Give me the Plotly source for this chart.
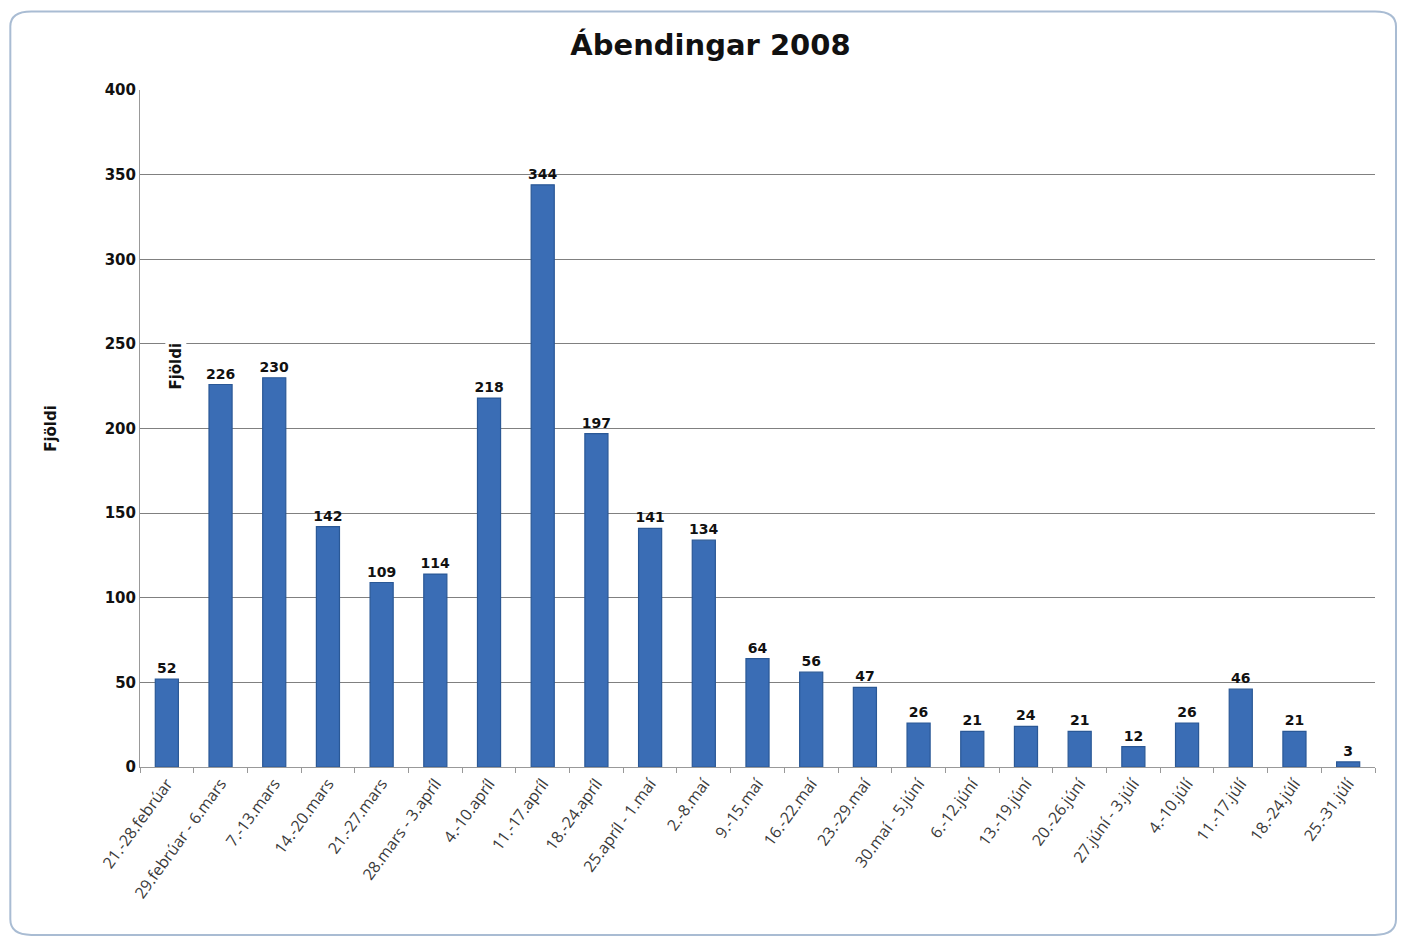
import plotly.graph_objects as go

categories = ["21.-28.febrúar", "29.febrúar - 6.mars", "7.-13.mars", "14.-20.mars",
              "21.-27.mars", "28.mars - 3.apríl", "4.-10.apríl", "11.-17.apríl",
              "18.-24.apríl", "25.apríl - 1.maí", "2.-8.maí", "9.-15.maí",
              "16.-22.maí", "23.-29.maí", "30.maí - 5.júní", "6.-12.júní",
              "13.-19.júní", "20.-26.júní", "27.júní - 3.júlí", "4.-10.júlí",
              "11.-17.júlí", "18.-24.júlí", "25.-31.júlí"]
values = [52, 226, 230, 142, 109, 114, 218, 344, 197, 141, 134, 64,
          56, 47, 26, 21, 24, 21, 12, 26, 46, 21, 3]
y_ticks = [0, 50, 100, 150, 200, 250, 300, 350, 400]

fig = go.Figure()
fig.add_trace(go.Bar(
    x=categories, y=values,
    marker=dict(color="#3A6DB5", line=dict(color="#2A5896", width=1.2)),
    text=[str(v) for v in values], textposition="outside",
    textfont=dict(family="DejaVu Sans", size=14, color="#111111", weight="bold"),
    constraintext="none",
    cliponaxis=False,
))

fig.update_layout(
    width=1405, height=939,
    paper_bgcolor="white", plot_bgcolor="white",
    margin=dict(l=132, r=38, t=82, b=180, autoexpand=False),
    bargap=0.57,
    showlegend=False,
    title=dict(text="<b>Ábendingar 2008</b>", x=0.5, xanchor="center", y=0.961, yanchor="middle",
               font=dict(family="DejaVu Sans", size=29, color="#111111")),
    xaxis=dict(
        tickangle=-54, tickfont=dict(family="Open Sans", size=16, color="#3a3a3a"),
        showline=True, linecolor="#999999", linewidth=1,
        ticks="outside", tickson="boundaries", ticklen=5, tickcolor="#999999",
        showgrid=False,
    ),
    yaxis=dict(
        range=[0, 400], tickvals=y_ticks,
        tickfont=dict(family="DejaVu Sans", size=15, color="#111111", weight="bold"),
        showgrid=True, gridcolor="#808080", gridwidth=1,
        showline=True, linecolor="#999999", linewidth=1,
        ticks="", zeroline=False,
        title=dict(text="<b>Fjöldi</b>", font=dict(family="DejaVu Sans", size=15, color="#111111"), standoff=44),
    ),
    shapes=[dict(
        type="path", xref="paper", yref="paper", layer="below",
        path="M -0.088,1.116 L 1.0,1.116 Q 1.017,1.116 1.017,1.094 L 1.017,-0.225 "
             "Q 1.017,-0.248 1.0,-0.248 L -0.088,-0.248 Q -0.105,-0.248 -0.105,-0.225 "
             "L -0.105,1.094 Q -0.105,1.116 -0.088,1.116 Z",
        line=dict(color="#A9BCD3", width=2),
    )],
    annotations=[dict(
        text="<b>Fjöldi</b>", xref="paper", yref="y", x=0.02, y=237,
        textangle=-90, showarrow=False, bgcolor="white",
        font=dict(family="DejaVu Sans", size=15, color="#111111"),
    )],
)

fig.write_html("out.html")
